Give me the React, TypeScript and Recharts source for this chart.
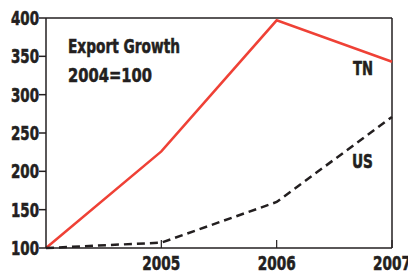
import React from 'react';
import { LineChart, Line, XAxis, YAxis, ReferenceLine } from 'recharts';

const years = [2004, 2005, 2006, 2007];
const tnValues = [100, 226, 397, 343];
const usValues = [100, 107, 160, 271];
const yTicks = [100, 150, 200, 250, 300, 350, 400];
const xTicks = [2005, 2006, 2007];

const data = years.map((year, i) => ({ year, tn: tnValues[i], us: usValues[i] }));

const FONT = '"DejaVu Sans", sans-serif';
const INK = '#231f20';

// condensed bold look: squeeze a regular bold face to the reference widths
const Condensed = (p: { x: number; y: number; w: number; size: number; anchor?: string; children: React.ReactNode }) => (
  <text
    x={p.x}
    y={p.y}
    textAnchor={p.anchor || 'start'}
    textLength={p.w}
    lengthAdjust="spacingAndGlyphs"
    fontFamily={FONT}
    fontWeight="bold"
    fontSize={p.size}
    fill={INK}
    stroke={INK}
    strokeWidth={0.6}
  >
    {p.children}
  </text>
);

// x ticks point up into the plot, labels sit below the axis
const XTick = (props: any) => {
  const { x, y, payload } = props;
  return (
    <g>
      <line x1={x} y1={y} x2={x} y2={y - 8} stroke={INK} strokeWidth={1.2} />
      <Condensed x={x} y={y + 22} w={38} size={20} anchor="middle">
        {payload.value}
      </Condensed>
    </g>
  );
};

const YTick = (props: any) => {
  const { x, y, payload } = props;
  return (
    <Condensed x={x} y={y + 7} w={28} size={19} anchor="end">
      {payload.value}
    </Condensed>
  );
};

const App: React.FC = () => {
  return (
    <div style={{ position: 'absolute', left: 0, top: 0, width: 408, height: 273, background: '#fff', overflow: 'hidden' }}>
      <LineChart width={408} height={273} data={data} margin={{ top: 18, right: 16, left: 0, bottom: 0 }}>
        <XAxis
          dataKey="year"
          type="number"
          domain={[2004, 2007]}
          ticks={xTicks}
          height={25}
          stroke={INK}
          strokeWidth={1.5}
          tickLine={false}
          tickSize={0}
          tickMargin={0}
          tick={<XTick />}
        />
        <YAxis
          type="number"
          domain={[100, 400]}
          ticks={yTicks}
          width={46}
          stroke={INK}
          strokeWidth={1.5}
          tickSize={7}
          tickMargin={0}
          tick={<YTick />}
        />
        <ReferenceLine y={400} stroke={INK} strokeWidth={1.5} />
        <ReferenceLine x={2007} stroke={INK} strokeWidth={1.5} />
        <Line type="linear" dataKey="tn" stroke="#ef4136" strokeWidth={2.5} dot={false} isAnimationActive={false} />
        <Line type="linear" dataKey="us" stroke={INK} strokeWidth={2.5} strokeDasharray="8 5" dot={false} isAnimationActive={false} />
      </LineChart>
      <svg width={408} height={273} style={{ position: 'absolute', left: 0, top: 0, pointerEvents: 'none' }}>
        <Condensed x={68} y={53} w={112} size={20}>Export Growth</Condensed>
        <Condensed x={68} y={82} w={84} size={20}>2004=100</Condensed>
        <Condensed x={353} y={75} w={20} size={20}>TN</Condensed>
        <Condensed x={352} y={168} w={21} size={20}>US</Condensed>
      </svg>
    </div>
  );
};

export default App;
